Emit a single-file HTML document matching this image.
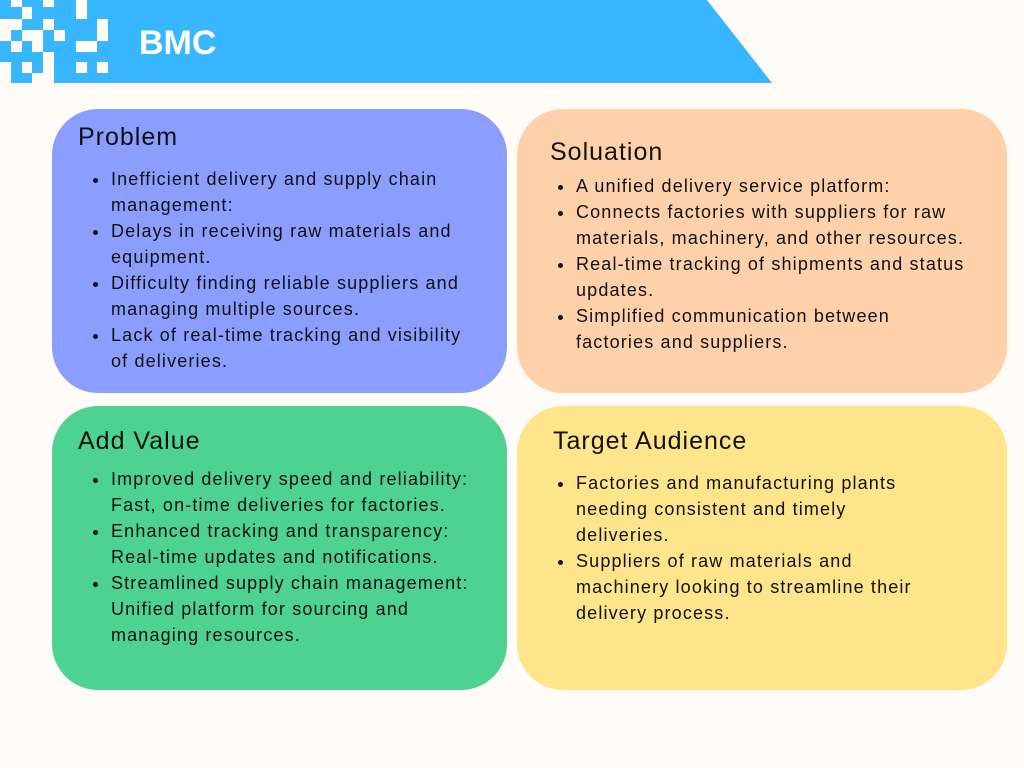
<!DOCTYPE html>
<html><head><meta charset="utf-8"><style>
body{margin:0;width:1024px;height:768px;background:#fffcf8;position:relative;overflow:hidden;font-family:"Liberation Sans",sans-serif;color:#111}
.banner{position:absolute;left:0;top:0}
.title{position:absolute;left:139px;top:24px;font-size:34px;font-weight:bold;color:#fff}
.card{position:absolute;border-radius:46px}
.card h2{position:absolute;margin:0;font-weight:normal;font-size:25px;letter-spacing:1px}
.card ul{position:absolute;margin:0;padding-left:22px;font-size:18px;line-height:26px;list-style:disc;letter-spacing:1.15px;white-space:nowrap}
.card li{padding-left:1px}
</style></head><body>
<svg class="banner" width="780" height="90">
<polygon points="0,0 707,0 772,83 0,83" fill="#38b6ff"/>
<g fill="#fffcf8">
<rect x="11" y="0" width="11" height="7"/><rect x="43" y="0" width="11" height="7"/><rect x="76" y="0" width="11" height="19"/>
<rect x="22" y="7" width="10" height="12"/>
<rect x="0" y="19" width="22" height="11"/><rect x="43" y="19" width="11" height="11"/><rect x="97" y="19" width="11" height="22"/>
<rect x="0" y="30" width="11" height="11"/><rect x="22" y="30" width="21" height="11"/><rect x="54" y="30" width="11" height="11"/>
<rect x="11" y="41" width="11" height="11"/><rect x="32" y="41" width="11" height="11"/><rect x="76" y="41" width="21" height="11"/>
<rect x="43" y="52" width="11" height="10"/>
<rect x="0" y="62" width="11" height="11"/><rect x="22" y="62" width="10" height="11"/><rect x="43" y="62" width="11" height="11"/><rect x="76" y="62" width="11" height="11"/><rect x="97" y="62" width="11" height="11"/>
<rect x="0" y="73" width="11" height="10"/><rect x="32" y="73" width="22" height="10"/>
</g></svg>
<div class="title">BMC</div>

<div class="card" style="left:52px;top:109px;width:455px;height:284px;background:#8b9dfe">
<h2 style="left:26px;top:14px">Problem</h2>
<ul style="left:36px;top:57px">
<li>Inefficient delivery and supply chain<br>management:</li>
<li>Delays in receiving raw materials and<br>equipment.</li>
<li>Difficulty finding reliable suppliers and<br>managing multiple sources.</li>
<li>Lack of real-time tracking and visibility<br>of deliveries.</li></ul></div>

<div class="card" style="left:517px;top:109px;width:490px;height:284px;background:#fed1aa">
<h2 style="left:33px;top:29px">Soluation</h2>
<ul style="left:36px;top:64px">
<li>A unified delivery service platform:</li>
<li>Connects factories with suppliers for raw<br>materials, machinery, and other resources.</li>
<li>Real-time tracking of shipments and status<br>updates.</li>
<li>Simplified communication between<br>factories and suppliers.</li></ul></div>

<div class="card" style="left:52px;top:406px;width:455px;height:284px;background:#4dd292">
<h2 style="left:26px;top:21px">Add Value</h2>
<ul style="left:36px;top:60px">
<li>Improved delivery speed and reliability:<br>Fast, on-time deliveries for factories.</li>
<li>Enhanced tracking and transparency:<br>Real-time updates and notifications.</li>
<li>Streamlined supply chain management:<br>Unified platform for sourcing and<br>managing resources.</li></ul></div>

<div class="card" style="left:517px;top:406px;width:490px;height:284px;background:#fee48b">
<h2 style="left:36px;top:21px">Target Audience</h2>
<ul style="left:36px;top:64px">
<li>Factories and manufacturing plants<br>needing consistent and timely<br>deliveries.</li>
<li>Suppliers of raw materials and<br>machinery looking to streamline their<br>delivery process.</li></ul></div>
</body></html>
